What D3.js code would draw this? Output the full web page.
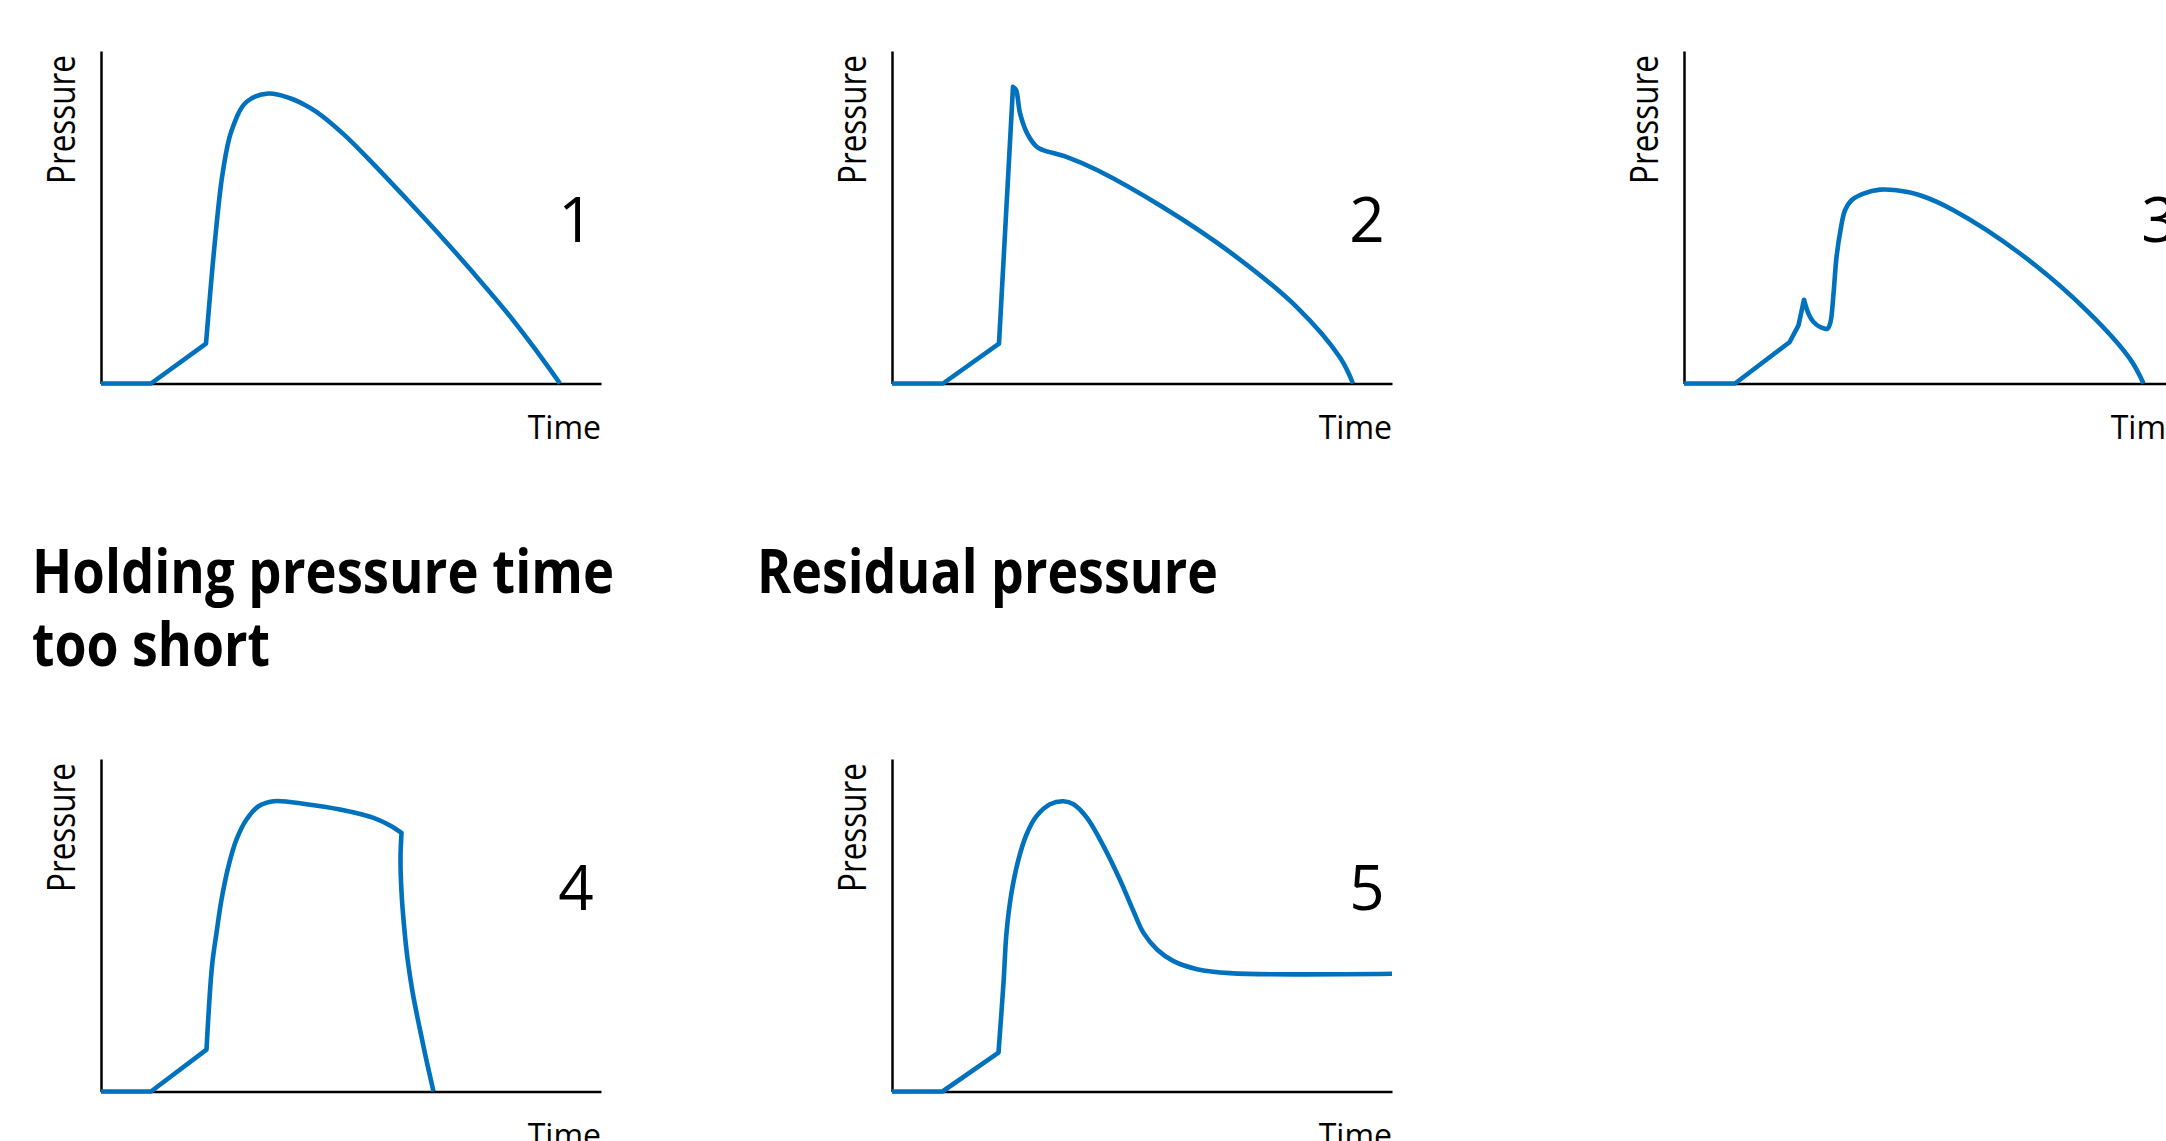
<!DOCTYPE html>
<html>
<head>
<meta charset="utf-8">
<script src="https://cdn.jsdelivr.net/npm/d3@7"></script>
<style>
  html, body { margin: 0; padding: 0; background: #fff; }
  svg { display: block; }
</style>
</head>
<body>
<svg id="chart" width="2166" height="1141"></svg>
<script>

// each curve: [time, pressure], time 0-100 along the x axis, pressure 0-100 up to the top of the y axis
var curve1 = [[0,0],[10,0],[21,12],[22.8,43],[24.3,63],[26.1,76],[29.1,84.7],[33.5,87.2],[37.8,85.8],[40.5,84],
	[43.1,81.7],[48.5,75],[54.5,66],[61.1,55.5],[67.8,44.6],[74.5,33.2],[81.1,21.5],[86.5,11],[91.8,0]];
var curve2 = [[0,0],[10.2,0],[21.4,12],[24.2,89.2],[24.8,88.3],[25.6,81.3],[27,75.3],[29,71.1],[30.2,70.2],
	[35,68.1],[41,64.2],[54.2,53],[67.6,39.5],[81,22.9],[89.6,7.8],[92.2,0]];
var curve3 = [[0,0],[10.2,0],[21.1,12.4],[22.9,17.5],[24,25.2],[24.9,21],[25.9,18.5],[27.5,16.8],[28.7,16.5],
	[29.3,18.5],[29.9,27],[30.5,38],[31.3,46.1],[32.2,52.1],[33.5,55.1],[35.9,57.1],[39.2,58.3],[42.5,58.1],
	[47.2,56.6],[53.9,52.1],[67.2,39.1],[80.5,22],[89.2,7.4],[91.9,0]];
var curve4 = [[0,0],[10,0],[21.1,12.6],[22.2,37.7],[23.1,47.7],[24.1,57.7],[25.5,67.8],[27.1,75.8],
	[29.1,81.8],[31.5,85.8],[34.5,87.3],[41.1,86.4],[47.8,84.8],[54.5,82.3],[57.8,80],[60.1,77.8],
	[59.9,70],[60.1,60],[60.6,50],[61.3,40],[62.3,30],[63.6,20],[65,10],[66.5,0]];
var curve5 = [[0,0],[10.1,0],[21.3,11.7],[22.3,32.6],[22.9,47.7],[23.9,59.8],[25.3,69.8],[26.9,77.3],
	[28.9,82.8],[31.6,86.4],[34.3,87.3],[36.3,86.4],[39,82.3],[42.3,73.8],[45.7,63.3],[48.3,54.2],[50.3,47.7],
	[53,42.7],[56.3,39.2],[61,36.8],[67.6,35.6],[100,35.4]];

// points where the trace has a sharp corner (index into the curve)
var corners1 = [1, 2];
var corners2 = [1, 2, 3];
var corners3 = [1, 2, 3, 4];
var corners4 = [1, 2, 15];
var corners5 = [1, 2];

var panelNumbers = ["1", "2", "3", "4", "5"];
var headingLeft = ["Holding pressure time", "too short"];
var headingRight = ["Residual pressure"];
var X_LABEL = "Time";
var Y_LABEL = "Pressure";

var curves = [curve1, curve2, curve3, curve4, curve5];
var corners = [corners1, corners2, corners3, corners4, corners5];

var LINE_COLOR = "#0071bc";
var LINE_WIDTH = 4.6;
var AXIS_WIDTH = 2.5;
var FONT = "'Open Sans', 'DejaVu Sans', sans-serif";

var PANEL_W = 500, PANEL_H = 332.5;
var layout = [
	{ left: 101, top: 51, numY: 191 },
	{ left: 892, top: 51, numY: 191 },
	{ left: 1684, top: 51, numY: 191 },
	{ left: 101, top: 759, numY: 150.5 },
	{ left: 892, top: 759, numY: 150.5 }
];

var svg = d3.select("#chart");
svg.append("rect").attr("width", 2166).attr("height", 1141).attr("fill", "#fff");

var x = d3.scaleLinear().domain([0, 100]).range([0, PANEL_W]);
var y = d3.scaleLinear().domain([0, 100]).range([PANEL_H, 0]);

var smooth = d3.line()
	.x(function(d) { return x(d[0]); })
	.y(function(d) { return y(d[1]); })
	.curve(d3.curveCatmullRom.alpha(0.5));

// one path, smooth between corners, joined without a new moveTo
function tracePath(points, cornerIdx) {
	var stops = [0].concat(cornerIdx, [points.length - 1]);
	var d = "";
	for (var i = 0; i < stops.length - 1; i++) {
		var s = smooth(points.slice(stops[i], stops[i + 1] + 1));
		d += (i === 0) ? s : s.replace(/^M[^LC]*/, "");
	}
	return d;
}

for (var i = 0; i < curves.length; i++) {
	var p = layout[i];
	var g = svg.append("g").attr("transform", "translate(" + p.left + "," + p.top + ")");

	g.append("g").attr("transform", "translate(0," + PANEL_H + ")")
		.call(d3.axisBottom(x).tickValues([]).tickSizeOuter(0));
	g.append("g")
		.call(d3.axisLeft(y).tickValues([]).tickSizeOuter(0));
	g.selectAll(".domain").attr("stroke", "#000").attr("stroke-width", AXIS_WIDTH);

	g.append("path")
		.attr("d", tracePath(curves[i], corners[i]))
		.attr("fill", "none")
		.attr("stroke", LINE_COLOR)
		.attr("stroke-width", LINE_WIDTH)
		.attr("stroke-linejoin", "round")
		.attr("stroke-linecap", "butt");

	g.append("text")
		.attr("transform", "translate(-26,133) rotate(-90)")
		.attr("font-family", FONT)
		.attr("font-size", 38)
		.attr("textLength", 129)
		.attr("lengthAdjust", "spacingAndGlyphs")
		.attr("fill", "#000")
		.text(Y_LABEL);

	g.append("text")
		.attr("x", PANEL_W)
		.attr("y", PANEL_H + 55)
		.attr("text-anchor", "end")
		.attr("font-family", FONT)
		.attr("font-size", 32)
		.attr("fill", "#000")
		.text(X_LABEL);

	g.append("text")
		.attr("x", 475)
		.attr("y", p.numY)
		.attr("text-anchor", "middle")
		.attr("font-family", FONT)
		.attr("font-size", 62)
		.attr("fill", "#000")
		.text(panelNumbers[i]);
}

// headings above the lower row
var headingLengths = [582, 238];
svg.selectAll("text.heading-left")
	.data(headingLeft)
	.enter().append("text")
	.attr("class", "heading-left")
	.attr("x", 32)
	.attr("y", function(d, i) { return 593 + i * 73; })
	.attr("font-family", FONT)
	.attr("font-weight", 700)
	.attr("font-size", 60)
	.attr("textLength", function(d, i) { return headingLengths[i]; })
	.attr("lengthAdjust", "spacingAndGlyphs")
	.attr("fill", "#000")
	.text(function(d) { return d; });

svg.selectAll("text.heading-right")
	.data(headingRight)
	.enter().append("text")
	.attr("class", "heading-right")
	.attr("x", 757)
	.attr("y", 593)
	.attr("font-family", FONT)
	.attr("font-weight", 700)
	.attr("font-size", 60)
	.attr("textLength", 461)
	.attr("lengthAdjust", "spacingAndGlyphs")
	.attr("fill", "#000")
	.text(function(d) { return d; });

</script>
</body>
</html>
